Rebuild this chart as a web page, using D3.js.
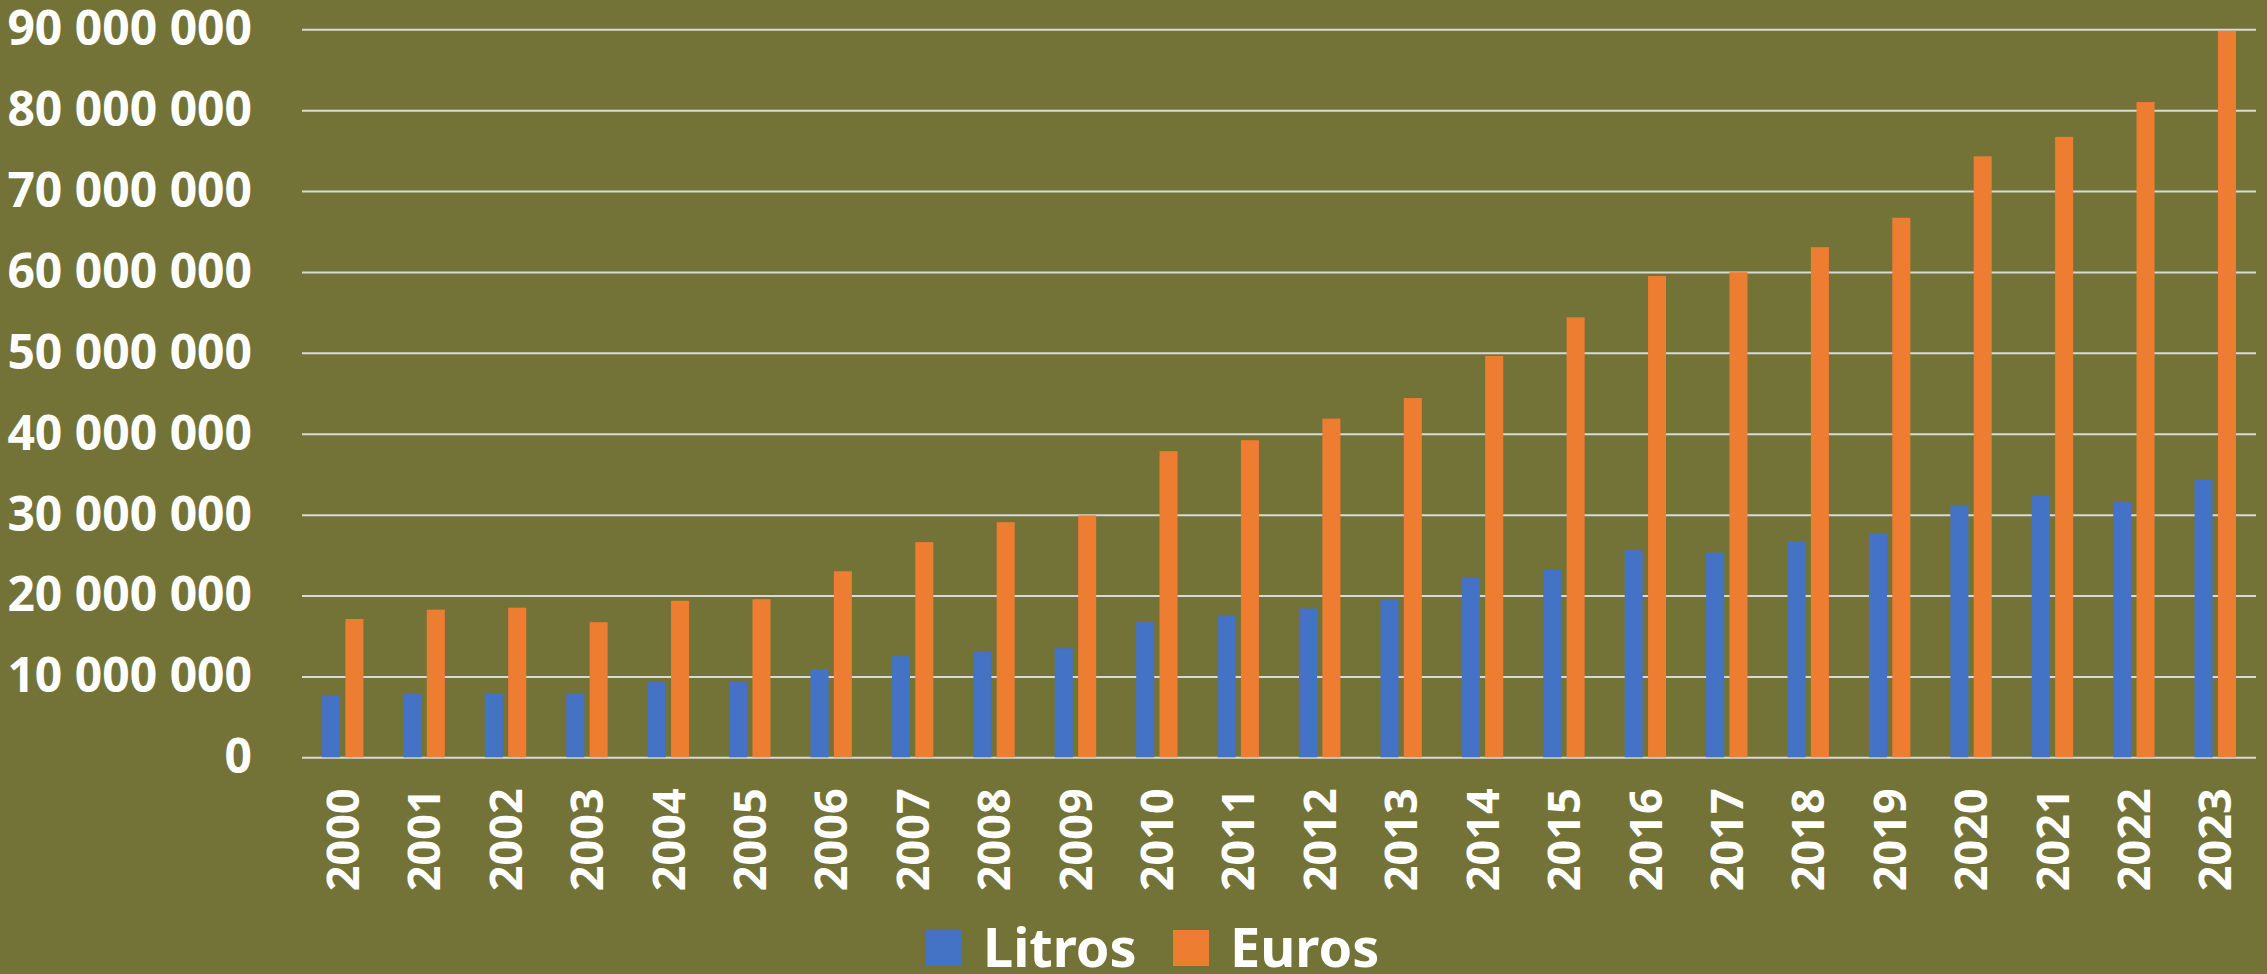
<!DOCTYPE html>
<html lang="es">
<head>
  <meta charset="UTF-8" />
  <title>Litros y Euros 2000-2023</title>
  <script src="https://d3js.org/d3.v7.min.js"></script>
  <style>
    html, body { margin: 0; padding: 0; background: #737338; overflow: hidden; }
    svg { display: block; }
    text { font-family: "Noto Sans", sans-serif; font-weight: 700; fill: #fff; }
  </style>
</head>
<body>
  <svg id="chart" width="2267" height="974"></svg>

  <script>
    // data
    const years = ["2000", "2001", "2002", "2003", "2004", "2005", "2006", "2007",
      "2008", "2009", "2010", "2011", "2012", "2013", "2014", "2015",
      "2016", "2017", "2018", "2019", "2020", "2021", "2022", "2023"];
    const litros = [7600000, 7850000, 7920000, 7900000, 9300000, 9330000, 10900000, 12500000,
      13050000, 13500000, 16700000, 17500000, 18400000, 19450000, 22200000, 23250000,
      25600000, 25300000, 26700000, 27700000, 31200000, 32350000, 31550000, 34300000];
    const euros = [17100000, 18250000, 18500000, 16700000, 19350000, 19550000, 23000000, 26600000,
      29070000, 29900000, 37850000, 39200000, 41860000, 44410000, 49610000, 54400000,
      59500000, 59970000, 63070000, 66700000, 74300000, 76700000, 81000000, 89800000];
    const seriesNames = ["Litros", "Euros"];
    const seriesColors = ["#4472C4", "#ED7D31"];
    const yTicks = [0, 10000000, 20000000, 30000000, 40000000, 50000000,
      60000000, 70000000, 80000000, 90000000];

    const svg = d3.select("#chart");
    const plot = { left: 302, right: 2256, top: 29.3, bottom: 757.3 };

    const fmt = d3.formatLocale({ decimal: ",", thousands: " ", grouping: [3], currency: ["", "€"] }).format(",d");

    const x = d3.scaleBand().domain(years).range([plot.left, plot.right]).padding(0);
    const xs = d3.scaleBand().domain(seriesNames).range([0, x.bandwidth()])
      .paddingInner(0.227).paddingOuter(0.858);
    const y = d3.scaleLinear().domain([0, 90000000]).range([plot.bottom, plot.top]);
    const color = d3.scaleOrdinal().domain(seriesNames).range(seriesColors);

    // y axis + gridlines
    const yAxis = svg.append("g")
      .attr("transform", `translate(${plot.left},0)`)
      .call(d3.axisLeft(y).tickValues(yTicks).tickFormat(fmt)
        .tickSize(-(plot.right - plot.left)).tickPadding(50));
    yAxis.select(".domain").remove();
    yAxis.selectAll(".tick line").attr("stroke", "#d9d9d9").attr("stroke-width", 2);
    yAxis.selectAll(".tick text")
      .attr("fill", "#fff")
      .style("font-size", "48px")
      .style("font-family", "'Noto Sans', sans-serif")
      .style("font-weight", 700);

    // bars
    const rows = years.map((yr, i) => ({ year: yr, values: [litros[i], euros[i]] }));
    const groups = svg.append("g").selectAll("g")
      .data(rows)
      .join("g")
      .attr("transform", (d) => `translate(${x(d.year)},0)`);

    groups.selectAll("rect")
      .data((d) => seriesNames.map((s, k) => ({ key: s, value: d.values[k] })))
      .join("rect")
      .attr("x", (d) => xs(d.key))
      .attr("width", xs.bandwidth())
      .attr("y", (d) => y(d.value))
      .attr("height", (d) => y(0) - y(d.value))
      .attr("fill", (d) => color(d.key));

    // x axis labels (rotated)
    const xAxis = svg.append("g")
      .attr("transform", `translate(0,${plot.bottom})`)
      .call(d3.axisBottom(x).tickSize(0));
    xAxis.select(".domain").remove();
    xAxis.selectAll(".tick text")
      .attr("transform", "rotate(-90)")
      .attr("x", -31)
      .attr("y", 0)
      .attr("dy", "0.36em")
      .attr("text-anchor", "end")
      .attr("fill", "#fff")
      .style("font-size", "45px")
      .style("font-family", "'Noto Sans', sans-serif")
      .style("font-weight", 700);

    // legend
    const legendX = [926, 1173];
    const legend = svg.append("g").selectAll("g")
      .data(seriesNames)
      .join("g")
      .attr("transform", (d, i) => `translate(${legendX[i]},930)`);
    legend.append("rect")
      .attr("width", 36)
      .attr("height", 36)
      .attr("fill", (d) => color(d));
    legend.append("text")
      .attr("x", 57)
      .attr("y", 37)
      .style("font-size", "54px")
      .text((d) => d);
  </script>
</body>
</html>
